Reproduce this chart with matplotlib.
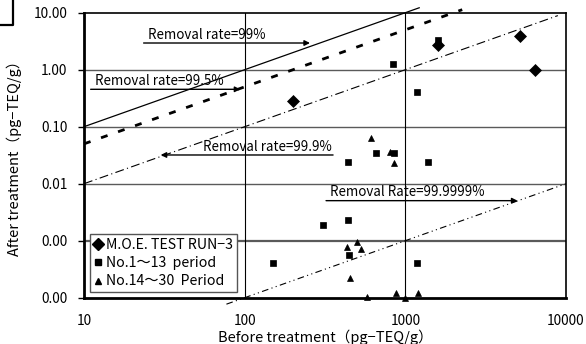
import numpy as np
import matplotlib
matplotlib.use("Agg")
import matplotlib.pyplot as plt
from matplotlib.lines import Line2D
from matplotlib.ticker import FixedLocator, FixedFormatter, NullLocator

plt.rcParams['font.family'] = ['Noto Sans CJK JP', 'DejaVu Sans']

# ---- data ----
moe_x = [201, 1600, 5200, 6400]
moe_y = [0.28, 2.7, 3.95, 1.0]

p1_x = [1600, 840, 1190, 442, 653, 849, 1390, 309, 442, 448, 1186, 150]
p1_y = [3.3, 1.26, 0.41, 0.0243, 0.034, 0.0345, 0.0237, 0.00188, 0.0023, 0.00056, 0.00041, 0.0004]

p2_x = [608, 800, 853, 498, 431, 527, 452, 574, 873, 993, 1197]
p2_y = [0.064, 0.036, 0.0228, 0.00096, 0.00079, 0.000706, 0.00022, 0.000104, 0.000119, 0.0001, 0.000119]

# removal-rate reference lines: (fraction remaining, x start, x end)
rates = [0.01, 0.005, 0.001, 0.000001]
rate_x0 = [10, 10, 10, 77]
rate_x1 = [1220, 2260, 8900, 10000]
rate_styles = ['-', (0, (2.5, 4)), (0, (8, 3, 1, 3)), (0, (6, 3, 1, 3, 1, 3))]
rate_lw = [0.9, 2.0, 0.8, 0.8]

labels = ['Removal rate=99%', 'Removal rate=99.5%', 'Removal rate=99.9%', 'Removal Rate=99.9999%']
arrow_start = [(23.5, 2.94), (11, 0.453), (355, 0.0319), (321, 0.00504)]
arrow_end = [(255, 2.94), (94, 0.453), (30, 0.0319), (4990, 0.00504)]

xticks = [10, 100, 1000, 10000]
xticklabels = ['10', '100', '1000', '10000']
yticks = [0.0001, 0.001, 0.01, 0.1, 1, 10]
yticklabels = ['0.00', '0.00', '0.01', '0.10', '1.00', '10.00']

legend_labels = ['M.O.E. TEST RUN−3', 'No.1～13  period', 'No.14～30  Period']

# ---- figure ----
fig = plt.figure(figsize=(5.86, 3.44), dpi=100)
ax = fig.add_axes([84/586, 1-297.7/344, (566-84)/586, (297.7-12.7)/344])
ax.set_xscale('log')
ax.set_yscale('log')
ax.set_xlim(10, 10000)
ax.set_ylim(0.0001, 10)

# grid
for yv in yticks[1:-1]:
    ax.axhline(yv, color='#5a5a5a', lw=1.0 if yv != 0.001 else 1.6, zorder=1)
for xv in xticks[1:-1]:
    ax.axvline(xv, color='black', lw=0.8, zorder=1)

# reference lines
for r, x0, x1, ls, lw in zip(rates, rate_x0, rate_x1, rate_styles, rate_lw):
    xs = np.array([x0, x1], dtype=float)
    ax.plot(xs, xs * r, color='black', ls=ls, lw=lw, clip_on=False, zorder=2)

# arrows and labels
for i, (lab, s, e) in enumerate(zip(labels, arrow_start, arrow_end)):
    ax.annotate('', xy=e, xytext=s, xycoords='data',
                arrowprops=dict(arrowstyle='-|>', color='black', lw=1.0,
                                mutation_scale=8, shrinkA=0, shrinkB=0),
                zorder=4, annotation_clip=False)
    if i == 2:
        ax.annotate(lab, xy=s, xytext=(-1, 1), textcoords='offset points',
                    ha='right', va='bottom', fontsize=9.6, zorder=4)
    else:
        ax.annotate(lab, xy=s, xytext=(3, 1), textcoords='offset points',
                    ha='left', va='bottom', fontsize=9.6, zorder=4)

# data
ax.plot(moe_x, moe_y, 'D', color='black', ms=6.2, mew=0.5, ls='none', zorder=5, clip_on=False)
ax.plot(p1_x, p1_y, 's', color='black', ms=4.3, mew=0.5, ls='none', zorder=5, clip_on=False)
ax.plot(p2_x, p2_y, '^', color='black', ms=5, mew=0.5, ls='none', zorder=5, clip_on=False)

# ticks
ax.xaxis.set_major_locator(FixedLocator(xticks))
ax.xaxis.set_major_formatter(FixedFormatter(xticklabels))
ax.xaxis.set_minor_locator(NullLocator())
ax.yaxis.set_major_locator(FixedLocator(yticks))
ax.yaxis.set_major_formatter(FixedFormatter(yticklabels))
ax.yaxis.set_minor_locator(NullLocator())
ax.tick_params(axis='x', length=0, pad=12, labelsize=9.8)
ax.tick_params(axis='y', length=4, width=1, direction='out', pad=8, labelsize=9.8)

for side in ['left', 'bottom']:
    ax.spines[side].set_linewidth(2)
for side in ['top', 'right']:
    ax.spines[side].set_linewidth(1.2)

ax.set_xlabel('Before treatment（pg−TEQ/g）', fontsize=10.5, labelpad=1)
ax.set_ylabel('After treatment（pg−TEQ/g）', fontsize=10.5, labelpad=8)

handles = [Line2D([], [], marker='D', color='black', ls='none', ms=6),
           Line2D([], [], marker='s', color='black', ls='none', ms=4),
           Line2D([], [], marker='^', color='black', ls='none', ms=4)]
leg = ax.legend(handles, legend_labels, loc='lower left', bbox_to_anchor=(6/482, 0.02),
                fontsize=10.2, frameon=True, fancybox=False, edgecolor='#555555',
                framealpha=1, handlelength=0.6, handletextpad=0.3, borderpad=0.25,
                labelspacing=0.3, borderaxespad=0)
leg.get_frame().set_linewidth(1.0)
leg.set_zorder(6)

# partial box at top-left corner
fig.add_artist(Line2D([0, 13/586, 13/586], [1-25/344, 1-25/344, 1.0],
                      transform=fig.transFigure, color='black', lw=1.6))

fig.savefig('out.png', dpi=100)
